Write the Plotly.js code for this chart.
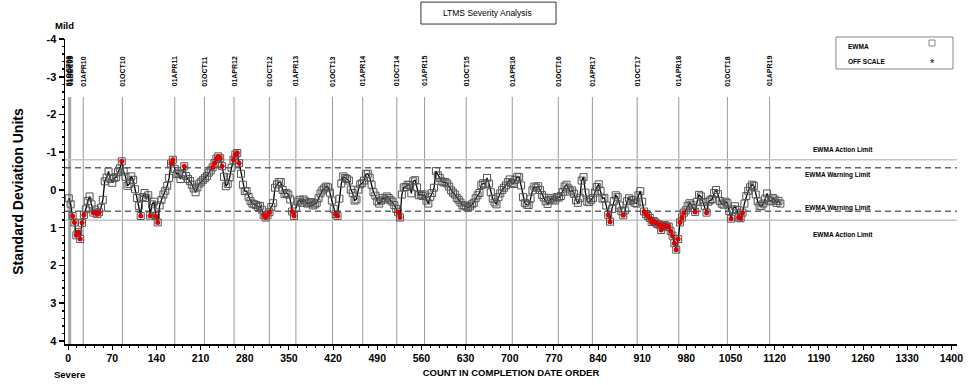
<!DOCTYPE html>
<html>
<head>
<meta charset="utf-8">
<script src="https://cdn.plot.ly/plotly-3.0.1.min.js"></script>
<style>
html,body{margin:0;padding:0;background:#fff;}
#chart{width:968px;height:385px;}
</style>
</head>
<body>
<div id="chart"></div>
<script>
// ---- data ----
const countStart = 1;
const countStep = 3;
const ewma = [
0.22,0.38,0.69,0.86,1.2,1.11,1.30,0.87,0.66,0.51,
0.29,0.17,0.38,0.60,0.52,0.64,0.59,0.47,0.26,-0.23,
-0.33,-0.49,-0.29,-0.19,-0.32,-0.34,-0.47,-0.57,-0.76,-0.49,
-0.35,-0.11,-0.16,-0.36,-0.27,-0.02,0.21,0.42,0.69,0.19,
0.08,0.21,0.14,0.68,0.38,0.31,0.69,0.86,0.41,0.26,
0.12,0.02,-0.11,-0.32,-0.70,-0.80,-0.56,-0.42,-0.44,-0.29,
-0.41,-0.63,-0.37,-0.29,-0.24,-0.14,-0.04,0.06,-0.07,-0.17,
-0.22,-0.27,-0.32,-0.37,-0.46,-0.52,-0.60,-0.71,-0.83,-0.89,
-0.84,-0.63,-0.35,-0.10,-0.16,-0.33,-0.59,-0.80,-0.94,-0.98,
-0.71,-0.43,-0.14,0.03,
0.03,0.18,0.29,0.36,0.38,0.40,0.45,0.42,0.52,0.66,
0.73,0.67,0.59,0.45,0.35,-0.06,-0.15,-0.21,-0.21,0.00,
0.11,0.08,0.12,0.25,0.57,0.69,0.47,0.31,0.26,0.34,
0.25,0.30,0.36,0.34,0.32,0.41,0.38,0.34,0.22,0.09,
0.01,-0.04,-0.09,-0.07,0.07,0.28,0.50,0.64,0.69,0.23,
-0.17,-0.36,-0.32,-0.29,-0.25,-0.01,0.08,0.28,0.25,-0.01,
-0.15,-0.18,-0.25,-0.42,-0.43,-0.33,-0.14,0.06,0.15,0.30,
0.36,0.28,0.21,0.25,0.17,0.21,0.27,0.31,0.40,0.50,
0.59,0.73,0.12,-0.07,-0.08,-0.14,-0.13,0.09,-0.23,-0.26,
-0.07,0.14,0.12,0.16,0.12,
0.28,0.36,0.18,0.08,-0.06,-0.50,-0.39,-0.32,-0.23,-0.20,
-0.21,-0.17,-0.09,0.01,0.07,0.12,0.21,0.26,0.33,0.41,
0.41,0.44,0.47,0.43,0.38,0.34,0.22,0.14,0.08,-0.13,
-0.18,-0.15,-0.32,-0.17,0.06,0.23,0.33,0.38,0.19,0.09,
0.00,-0.06,-0.12,-0.21,-0.28,-0.18,-0.16,-0.27,-0.35,-0.34,
-0.12,0.19,0.34,0.39,0.40,0.23,0.01,-0.09,-0.06,-0.10,
0.00,0.13,0.20,0.30,0.37,0.27,0.21,0.25,0.28,0.19,
0.20,0.16,0.05,-0.09,-0.14,-0.04,0.04,0.01,0.10,0.27,
0.34,0.21,-0.25,-0.34,0.07,0.31,0.32,0.26,0.21,0.07,
-0.08,-0.15,0.02,0.23,0.21,
0.41,0.66,0.84,0.50,0.29,0.14,0.19,0.41,0.56,0.67,
0.54,0.30,0.22,0.28,0.26,0.34,0.36,0.14,0.03,0.31,
0.57,0.64,0.69,0.74,0.85,0.82,0.86,0.90,0.92,1.06,
0.95,0.93,0.97,0.97,1.09,1.21,1.41,1.58,1.30,0.86,
0.73,0.60,0.54,0.42,0.35,0.39,0.48,0.58,0.31,0.13,
0.17,0.32,0.43,0.60,0.31,0.27,0.24,0.08,0.00,0.11,
0.29,0.36,0.39,0.31,0.35,0.56,0.76,0.51,0.43,0.53,
0.73,0.75,0.60,0.36,0.16,0.02,-0.07,-0.14,-0.11,0.12,
0.30,0.42,0.43,0.36,0.23,0.09,0.28,0.30,0.21,0.25,
0.34,0.29,0.36
];
const dateLabels = ["01OCT09","01NOV09","01DEC09","01APR10","01OCT10","01APR11","01OCT11","01APR12","01OCT12","01APR13","01OCT13","01APR14","01OCT14","01APR15","01OCT15","01APR16","01OCT16","01APR17","01OCT17","01APR18","01OCT18","01APR19"];
const dateCounts = [1,2,4,24,86,169,216,263,319,361,419,467,521,565,631,704,777,831,902,968,1045,1112];
const actionLimits = [-0.80, 0.80];
const warningLimits = [-0.59, 0.56];
const limitNames = ["EWMA Action Limit","EWMA Warning Limit","EWMA Warning Limit","EWMA Action Limit"];
const xTicks = [0,70,140,210,280,350,420,490,560,630,700,770,840,910,980,1050,1120,1190,1260,1330,1400];
const yTicks = [-4,-3,-2,-1,0,1,2,3,4];

// ---- build ----
const counts = ewma.map((v,i)=>countStart + countStep*i);
const offX = [], offY = [];
ewma.forEach((v,i)=>{ if (v > warningLimits[1] || v < warningLimits[0]) { offX.push(counts[i]); offY.push(v); } });

const FONT = "Liberation Sans, Arial, Helvetica, sans-serif";

const traces = [
  {x: counts, y: ewma, type:'scatter', mode:'lines+markers', name:'EWMA',
   line:{color:'#000', width:1.3},
   marker:{symbol:'square-open', size:7, color:'#555', line:{width:1, color:'#555'}},
   hoverinfo:'x+y', showlegend:false},
  {x: offX, y: offY, type:'scatter', mode:'markers', name:'beyond warning',
   marker:{symbol:'circle', size:5, color:'#e00000'}, showlegend:false}
];

const lineTopPaper = 0.810;
const labelBottomPaper = 0.838;

const shapes = [];
dateCounts.forEach(c=>{
  shapes.push({type:'line', xref:'x', yref:'paper', x0:c, x1:c, y0:0, y1:lineTopPaper, line:{color:'#9a9a9a', width:1}, layer:'below'});
});
actionLimits.forEach(v=>shapes.push({type:'line', xref:'paper', yref:'y', x0:0, x1:1, y0:v, y1:v, line:{color:'#c4c4c4', width:1.6}, layer:'below'}));
warningLimits.forEach(v=>shapes.push({type:'line', xref:'paper', yref:'y', x0:0, x1:1, y0:v, y1:v, line:{color:'#666', width:1.5, dash:'6px,4px'}, layer:'below'}));
shapes.push({type:'rect', xref:'paper', yref:'paper', x0:0.399, x1:0.5505, y0:1.049, y1:1.121, line:{color:'#333', width:1}});
shapes.push({type:'rect', xref:'paper', yref:'paper', x0:0.8643, x1:0.9955, y0:0.9016, y1:1.0066, line:{color:'#888', width:1}});
shapes.push({type:'rect', xref:'paper', yref:'paper', x0:0.9686, x1:0.9753, y0:0.977, y1:0.9967, line:{color:'#888', width:1}});

const annotations = [];
dateLabels.forEach((t,i)=>{
  annotations.push({x:dateCounts[i], y:labelBottomPaper, xref:'x', yref:'paper', text:t, textangle:-90, showarrow:false,
    xanchor:'center', yanchor:'bottom', font:{family:FONT, size:7, color:'#000', weight:'bold'}});
});
const limitPaperY = [0.6393, 0.554, 0.4459, 0.3574];
const limitPaperX = [0.872, 0.8666, 0.8666, 0.872];
limitNames.forEach((t,i)=>{
  annotations.push({x:limitPaperX[i], y:limitPaperY[i], xref:'paper', yref:'paper', text:t, showarrow:false,
    xanchor:'center', yanchor:'middle', font:{family:FONT, size:6.5, color:'#000', weight:'bold'}});
});
annotations.push({x:0.4742, y:1.085, xref:'paper', yref:'paper', text:'LTMS Severity Analysis', showarrow:false,
  xanchor:'center', yanchor:'middle', font:{family:FONT, size:8.5, color:'#000'}});
annotations.push({x:0.8756, y:0.9738, xref:'paper', yref:'paper', text:'EWMA', showarrow:false,
  xanchor:'left', yanchor:'middle', font:{family:FONT, size:6.5, color:'#000', weight:'bold'}});
annotations.push({x:0.8756, y:0.9246, xref:'paper', yref:'paper', text:'OFF SCALE', showarrow:false,
  xanchor:'left', yanchor:'middle', font:{family:FONT, size:6.5, color:'#000', weight:'bold'}});
annotations.push({x:0.972, y:0.922, xref:'paper', yref:'paper', text:'*', showarrow:false,
  xanchor:'center', yanchor:'middle', font:{family:FONT, size:11, color:'#000'}});
annotations.push({x:-0.0011, y:1.0459, xref:'paper', yref:'paper', text:'Mild', showarrow:false,
  xanchor:'center', yanchor:'middle', font:{family:FONT, size:9.5, color:'#000', weight:'bold'}});
annotations.push({x:0.0056, y:-0.0984, xref:'paper', yref:'paper', text:'Severe', showarrow:false,
  xanchor:'center', yanchor:'middle', font:{family:FONT, size:9.5, color:'#000', weight:'bold'}});

const layout = {
  width:968, height:385,
  margin:{l:65, r:11, t:39, b:41, pad:0},
  paper_bgcolor:'#fff', plot_bgcolor:'#fff',
  showlegend:false,
  font:{family:FONT, color:'#000'},
  xaxis:{
    range:[-5,1409], tickmode:'array', tickvals:xTicks, ticktext:xTicks.map(String),
    showgrid:false, zeroline:false, showline:true, linecolor:'#000', linewidth:1.5,
    ticks:'outside', ticklen:4, tickwidth:1, tickcolor:'#000',
    minor:{dtick:14, tick0:0, ticks:'outside', ticklen:2, tickcolor:'#000', showgrid:false},
    tickfont:{family:FONT, size:10.5, weight:'bold'},
    title:{text:'COUNT IN COMPLETION DATE ORDER', font:{family:FONT, size:9.5, weight:'bold'}, standoff:6}
  },
  yaxis:{
    range:[4.08,-4], tickmode:'array', tickvals:yTicks, ticktext:yTicks.map(String),
    showgrid:false, zeroline:false, showline:true, linecolor:'#000', linewidth:1.5,
    ticks:'outside', ticklen:5, tickwidth:1.5, tickcolor:'#000',
    minor:{dtick:0.2, tick0:0, ticks:'outside', ticklen:2, tickcolor:'#000', showgrid:false},
    tickfont:{family:FONT, size:11, weight:'bold'},
    title:{text:'Standard Deviation Units', font:{family:FONT, size:14, weight:'bold'}, standoff:19}
  },
  shapes: shapes,
  annotations: annotations
};

Plotly.newPlot('chart', traces, layout, {displayModeBar:false, staticPlot:true});
</script>
</body>
</html>
